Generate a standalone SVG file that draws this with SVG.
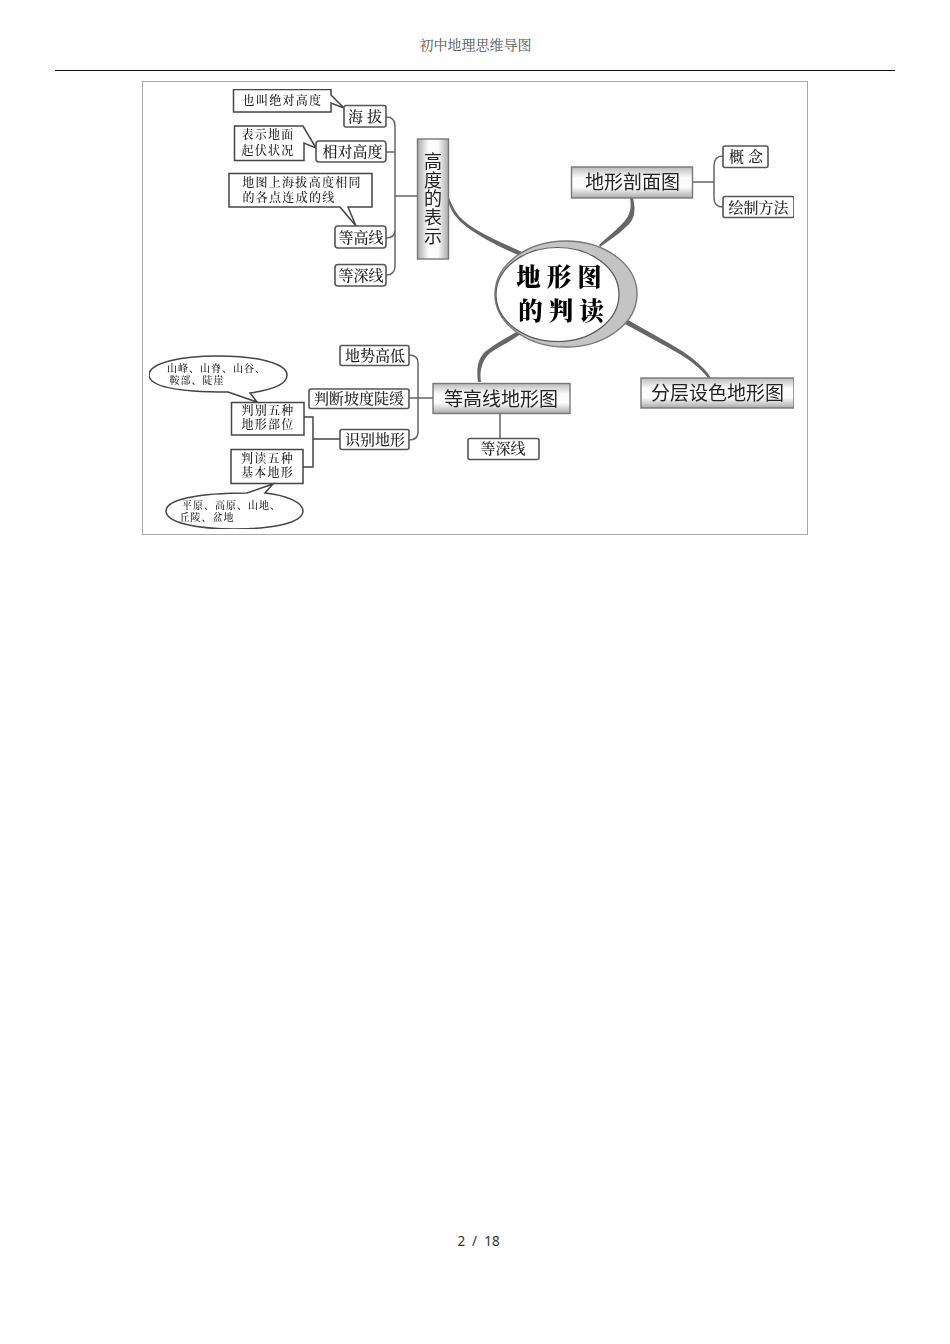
<svg xmlns="http://www.w3.org/2000/svg" width="950" height="1344" viewBox="0 0 950 1344">
<style>
text{font-family:"Noto Sans CJK SC","Noto Sans CJK JP",sans-serif;fill:#222;text-anchor:middle}
.box{fill:#fff;stroke:#555;stroke-width:1.6}
.call{fill:#fff;stroke:#444;stroke-width:1.5}
.grad{fill:url(#hg);stroke:#777;stroke-width:1.4}
.line{fill:none;stroke:#666;stroke-width:1.5}
.thick{fill:#666;stroke:none}
.t15{font-size:15px}.t12{font-size:12px;letter-spacing:1.3px}.t10{font-size:10px;letter-spacing:1px}.t19{font-size:19px}
.serif{font-family:"Noto Serif CJK SC","Noto Sans CJK SC",serif;font-weight:500}
</style>
<defs>
<linearGradient id="hg" x1="0" y1="0" x2="0" y2="1"><stop offset="0" stop-color="#bbb"/><stop offset=".35" stop-color="#fcfcfc"/><stop offset=".65" stop-color="#fcfcfc"/><stop offset="1" stop-color="#aaa"/></linearGradient>
<linearGradient id="vg" x1="0" y1="0" x2="1" y2="0"><stop offset="0" stop-color="#aaa"/><stop offset=".35" stop-color="#fcfcfc"/><stop offset=".65" stop-color="#fcfcfc"/><stop offset="1" stop-color="#aaa"/></linearGradient>
<filter id="soft" x="0" y="0" width="1" height="1"><feGaussianBlur stdDeviation="0.4"/></filter>
</defs>
<rect width="950" height="1344" fill="#fff"/>
<g id="page">
<text class="serif" x="475.500" y="50" style="font-size:14px;fill:#555;font-weight:400">初中地理思维导图</text>
<path d="M55 70.500H895" stroke="#111" stroke-width="1.200" fill="none"/>
<text x="478.500" y="1246" style="font-size:13.500px;font-family:'Noto Sans',sans-serif;fill:#333" xml:space="preserve">2  /  18</text>
<rect x="142.500" y="81.500" width="665" height="453" fill="#fff" stroke="#aaa" stroke-width="1"/>
</g>
<g filter="url(#soft)">
<g id="connectors">
<path class="line" d="M386 117Q395 117 395 126V266Q395 275 386 275M386 152H395M386 238Q395 238 395 230M395 196H417"/>
<path class="line" d="M692 182H714M723 156Q714 156 714 166V198Q714 207 723 207"/>
<path class="line" d="M409 355Q418 355 418 363V432Q418 440 409 440M409 398H433M500 413V438"/>
<path class="line" style="stroke:#444" d="M304 417H313V467H303M313 439H340"/>
<path class="thick" d="M448 195C455 215 462 220 475 229C490 238 505 244 522 252L518 255C500 247 482 238 468 228C456 219 450 210 448 200Z"/>
<path class="thick" d="M633 198C636 210 635 220 626 227C618 235 608 241 600 247L599 245C606 238 614 232 622 224C630 216 632 208 630 198Z"/>
<path class="thick" d="M522 333C510 342 500 346 490 353C483 359 479 370 481 382L478 382C476 368 478 358 486 351C498 342 508 337 518 331Z"/>
<path class="thick" d="M628 320C645 330 665 340 682 351C695 360 705 368 711 378L708 378C700 368 690 360 678 353C660 343 642 333 625 324Z"/>
</g>
<g id="callout-haiba"><path class="call" d="M233.500 89.500H331V95L344 108L331 103V112H233.500Z"/><text class="t12 serif" x="282.500" y="105">也叫绝对高度</text></g>
<g id="callout-xiangdui"><path class="call" d="M234.500 126H303L316 148L304 143V160.500H234.500Z"/><text class="t12 serif"><tspan x="268" y="139">表示地面</tspan><tspan x="268" y="155">起伏状况</tspan></text></g>
<g id="callout-denggao"><path class="call" d="M229 173.500H372V207H348L356 226L340 207H229Z"/><text class="t12 serif"><tspan x="302" y="187">地图上海拔高度相同</tspan><tspan x="289" y="202">的各点连成的线</tspan></text></g>
<g id="node-haiba"><rect class="box" x="344" y="105.500" width="42" height="21.500" rx="2"/><text class="t15 serif" x="365" y="122">海 拔</text></g>
<g id="node-xiangdui"><rect class="box" x="316" y="141" width="70" height="21" rx="3"/><text class="t15 serif" x="352.500" y="157">相对高度</text></g>
<g id="node-denggao"><rect class="box" x="335" y="226" width="51" height="22" rx="3"/><text class="t15 serif" x="361" y="243">等高线</text></g>
<g id="node-dengshen"><rect class="box" x="335" y="264.500" width="51" height="21.500" rx="3"/><text class="t15 serif" x="361" y="280.500">等深线</text></g>
<g id="node-gaodu"><rect x="417.500" y="139" width="31" height="120" fill="url(#vg)" stroke="#777" stroke-width="1.400"/><text x="433" y="199" style="font-size:18px;letter-spacing:.8px;writing-mode:vertical-rl;dominant-baseline:central">高度的表示</text></g>
<g id="node-poumian"><rect class="grad" x="571.500" y="167" width="121" height="31"/><text class="t19" x="632.500" y="189">地形剖面图</text></g>
<g id="node-gainian"><rect class="box" x="723" y="146" width="45" height="21.500" rx="2"/><text class="t15 serif" x="746" y="162">概 念</text></g>
<g id="node-huizhi"><rect class="box" x="723" y="196.500" width="71" height="21" rx="2"/><text class="t15 serif" x="758.500" y="213">绘制方法</text></g>
<g id="node-center"><ellipse cx="566" cy="294" rx="71" ry="53" fill="#c4c4c4" stroke="#777" stroke-width="1.400"/><ellipse cx="557.500" cy="294.500" rx="61.500" ry="47" fill="#fff" stroke="#555" stroke-width="1.200"/><text class="serif" x="559" y="286" style="font-size:24.500px;font-weight:900;fill:#000" xml:space="preserve">地 形 图</text><text class="serif" x="561" y="320" style="font-size:24.500px;font-weight:900;fill:#000" xml:space="preserve">的 判 读</text></g>
<g id="node-fenceng"><rect class="grad" x="641" y="378" width="153" height="30"/><text class="t19" x="717.500" y="400">分层设色地形图</text></g>
<g id="node-dengxian"><rect class="grad" x="433" y="383.500" width="137" height="30"/><text class="t19" x="501" y="405.500">等高线地形图</text></g>
<g id="node-dengshen2"><rect class="box" x="468" y="438.500" width="71" height="21" rx="2"/><text class="t15 serif" x="503" y="454">等深线</text></g>
<g id="node-dishi"><rect class="box" x="340" y="345.500" width="69" height="20" rx="2"/><text class="t15 serif" x="375" y="361">地势高低</text></g>
<g id="node-podu"><rect class="box" x="309" y="389" width="100" height="19.500" rx="2"/><text class="t15 serif" x="359" y="404">判断坡度陡缓</text></g>
<g id="node-shibie"><rect class="box" x="340" y="429.500" width="69" height="20" rx="2"/><text class="t15 serif" x="375" y="444.500">识别地形</text></g>
<g id="node-panbie"><rect class="call" x="231.500" y="402.500" width="72.500" height="32.500"/><text class="t12 serif"><tspan x="268" y="415">判别五种</tspan><tspan x="268" y="429">地形部位</tspan></text></g>
<g id="node-pandu"><rect class="call" x="231" y="449.500" width="72" height="34"/><text class="t12 serif"><tspan x="267.500" y="463">判读五种</tspan><tspan x="267.500" y="477">基本地形</tspan></text></g>
<g id="callout-shanfeng"><path class="call" d="M228 392C180 392 149 387 149 375C149 363 180 356 218 356C256 356 287 363 287 375C287 384 272 390 250 393L257 402Z"/><text class="t10 serif"><tspan x="216.500" y="372">山峰、山脊、山谷、</tspan><tspan x="197" y="384">鞍部、陡崖</tspan></text></g>
<g id="callout-pingyuan"><path class="call" d="M247 493C200 493 166 499 166 511C166 523 198 529 235 529C272 529 303 523 303 511C303 502 285 495 265 493L273 484Z"/><text class="t10 serif"><tspan x="231.500" y="509">平原、高原、山地、</tspan><tspan x="207" y="521">丘陵、盆地</tspan></text></g>
</g>
</svg>
